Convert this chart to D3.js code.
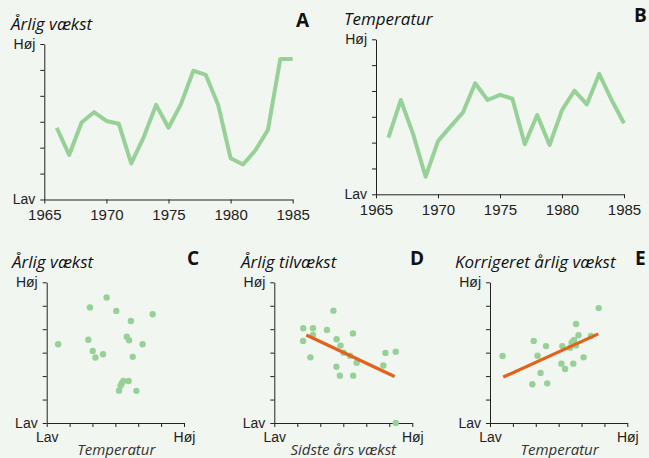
<!DOCTYPE html>
<html>
<head>
<meta charset="utf-8">
<script src="https://cdn.jsdelivr.net/npm/d3@7"></script>
<style>
  body { margin: 0; background: #f2f6f1; }
  svg { display: block; font-family: "Open Sans", sans-serif; }
  .tick text { fill: #222; }
  .domain, .tick line { stroke: #222; }
</style>
</head>
<body>
<div id="chart"></div>
<script>
// years for the two time series (A, B)
const years = d3.range(1966, 1986);
const growth = [2.77, 1.72, 2.97, 3.37, 3.03, 2.92, 1.39, 2.40, 3.65, 2.77,
  3.68, 4.97, 4.81, 3.65, 1.59, 1.35, 1.9, 2.68, 5.42, 5.42];
const temperature = [2.19, 3.65, 2.32, 0.68, 2.06, 2.62, 3.16, 4.30, 3.65, 3.85,
  3.70, 1.94, 3.07, 1.91, 3.26, 4.01, 3.48, 4.66, 3.65, 2.75];

// scatter C: temperature vs annual growth
const scatterCx = [0.50, 1.89, 2.62, 3.04, 3.68, 4.63, 1.82, 3.50, 3.60, 4.19,
  2.01, 2.13, 2.46, 3.76, 3.35, 3.58, 3.23, 3.16, 3.92, 3.28];
const scatterCy = [3.36, 4.93, 5.35, 4.78, 4.35, 4.64, 3.55, 3.68, 3.53, 3.36,
  3.07, 2.79, 2.93, 2.82, 1.79, 1.79, 1.59, 1.38, 1.37, 1.70];

// scatter D: last year's growth vs annual increment
const scatterDx = [1.26, 1.68, 1.25, 1.68, 2.57, 2.29, 3.42, 2.71, 2.88, 3.01,
  3.29, 3.58, 1.57, 2.70, 2.85, 3.43, 4.74, 4.83, 5.28, 5.28];
const scatterDy = [4.04, 4.04, 3.50, 3.75, 4.79, 3.97, 3.82, 3.57, 3.30, 3.00,
  2.87, 2.57, 2.80, 2.40, 2.02, 2.02, 2.45, 2.99, 3.04, 0.0];
const fitD = [[1.39, 3.75], [5.23, 1.98]];

// scatter E: temperature vs corrected growth
const scatterEx = [0.55, 1.91, 2.45, 2.08, 2.21, 1.85, 2.50, 3.16, 3.12, 3.28,
  3.50, 3.57, 3.67, 3.76, 3.76, 3.87, 3.64, 4.09, 4.41, 4.75];
const scatterEy = [2.86, 3.50, 3.28, 2.87, 2.13, 1.65, 1.69, 3.28, 2.53, 2.30,
  3.21, 3.43, 3.54, 3.31, 4.22, 3.74, 2.53, 2.80, 3.71, 4.90];
const fitE = [[0.58, 1.96], [4.73, 3.80]];

const levelTicks = d3.range(0, 7);
const yearTicks = [1965, 1970, 1975, 1980, 1985];

const green = "#97d198";
const orange = "#e2621b";

const svg = d3.select("#chart").append("svg")
  .attr("width", 649)
  .attr("height", 458);

const hojLav = d => d === 6 ? "Høj" : d === 0 ? "Lav" : "";

function yAxis(g, y) {
  g.call(d3.axisLeft(y).tickValues(levelTicks).tickSize(4).tickSizeOuter(0)
    .tickPadding(5).tickFormat(hojLav))
    .selectAll("text").style("font-size", "14px");
}

function title(x, y, txt, letter, lx) {
  svg.append("text").attr("x", x).attr("y", y)
    .style("font-style", "italic").style("font-size", "17px").attr("fill", "#111")
    .text(txt);
  svg.append("text").attr("x", lx).attr("y", y - 3)
    .style("font-weight", "bold").style("font-size", "19px").attr("fill", "#111")
    .text(letter);
}

function linePanel(box, values) {
  const x = d3.scaleLinear().domain([1965, 1985]).range([box.x0, box.x1]);
  const y = d3.scaleLinear().domain([0, 6]).range([box.y1, box.y0]);

  svg.append("g").attr("transform", `translate(${box.x0},0)`).call(g => yAxis(g, y));
  svg.append("g").attr("transform", `translate(0,${box.y1})`)
    .call(d3.axisBottom(x).tickValues(yearTicks).tickSize(4).tickSizeOuter(0)
      .tickPadding(6).tickFormat(d3.format("d")))
    .selectAll("text").style("font-size", "15px").attr("fill", "#333");

  svg.append("path")
    .datum(years.map((yr, i) => [yr, values[i]]))
    .attr("fill", "none")
    .attr("stroke", green)
    .attr("stroke-width", 4)
    .attr("stroke-linejoin", "round")
    .attr("d", d3.line().x(d => x(d[0])).y(d => y(d[1])));
}

function scatterPanel(box, xs, ys, fit, xTitle) {
  const x = d3.scaleLinear().domain([0, 6]).range([box.x0, box.x1]);
  const y = d3.scaleLinear().domain([0, 6]).range([box.y1, box.y0]);

  svg.append("g").attr("transform", `translate(${box.x0},0)`).call(g => yAxis(g, y));
  svg.append("g").attr("transform", `translate(0,${box.y1})`)
    .call(d3.axisBottom(x).tickValues(levelTicks).tickSize(4).tickSizeOuter(0)
      .tickPadding(5).tickFormat(d => d === 0 ? "Lav" : d === 6 ? "Høj" : ""))
    .selectAll("text").style("font-size", "14px");

  svg.append("g").selectAll("circle")
    .data(xs.map((v, i) => [v, ys[i]]))
    .join("circle")
    .attr("cx", d => x(d[0]))
    .attr("cy", d => y(d[1]))
    .attr("r", 3.2)
    .attr("fill", green);

  if (fit) {
    svg.append("line")
      .attr("x1", x(fit[0][0])).attr("y1", y(fit[0][1]))
      .attr("x2", x(fit[1][0])).attr("y2", y(fit[1][1]))
      .attr("stroke", orange).attr("stroke-width", 3.2);
  }

  svg.append("text")
    .attr("x", (box.x0 + box.x1) / 2 + box.labelShift)
    .attr("y", 455)
    .attr("text-anchor", "middle")
    .style("font-style", "italic").style("font-size", "15px").attr("fill", "#333")
    .text(xTitle);
}

// top row
title(11, 30, "Årlig vækst", "A", 296);
linePanel({ x0: 44.3, x1: 292.7, y0: 44, y1: 199.5 }, growth);

title(344, 25, "Temperatur", "B", 634);
linePanel({ x0: 376, x1: 624, y0: 39.3, y1: 194.3 }, temperature);

// bottom row
title(12, 268, "Årlig vækst", "C", 187);
scatterPanel({ x0: 46.7, x1: 184, y0: 282.3, y1: 423, labelShift: 1 }, scatterCx, scatterCy, null, "Temperatur");

title(241, 268, "Årlig tilvækst", "D", 410);
scatterPanel({ x0: 274.3, x1: 412.3, y0: 282.3, y1: 423, labelShift: 0 }, scatterDx, scatterDy, fitD, "Sidste års vækst");

title(455, 268, "Korrigeret årlig vækst", "E", 635);
scatterPanel({ x0: 490, x1: 627.3, y0: 282.3, y1: 423, labelShift: 1 }, scatterEx, scatterEy, fitE, "Temperatur");
</script>
</body>
</html>
